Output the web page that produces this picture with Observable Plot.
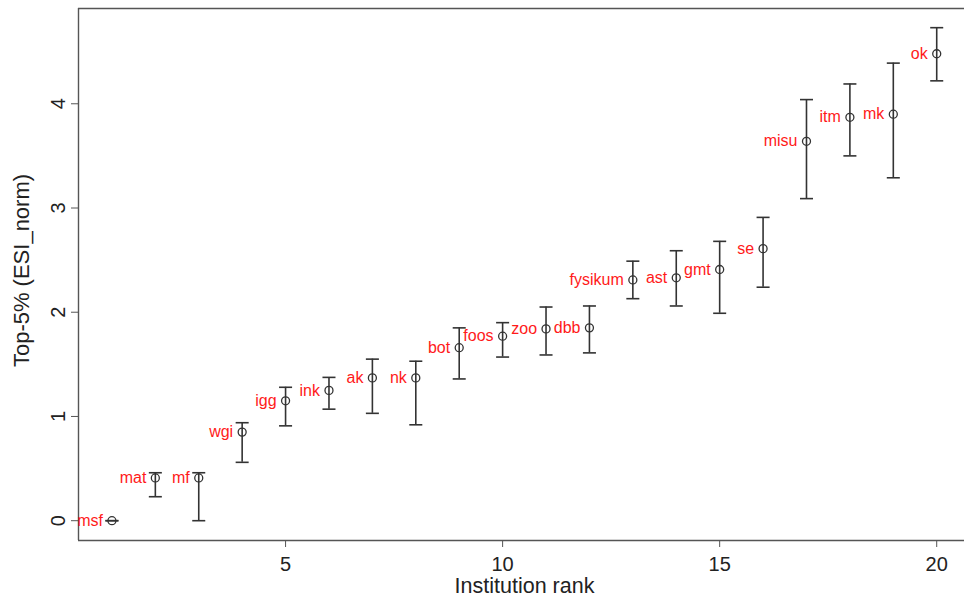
<!DOCTYPE html>
<html>
<head>
<meta charset="utf-8">
<script src="https://cdn.jsdelivr.net/npm/d3@7"></script>
<script src="https://cdn.jsdelivr.net/npm/@observablehq/plot@0.6"></script>
<style>
  html, body { margin: 0; padding: 0; background: #fff; overflow: hidden; }
  #chart svg { display: block; }
</style>
</head>
<body>
<div id="chart"></div>
<script>
// Data
const institutions = ["msf","mat","mf","wgi","igg","ink","ak","nk","bot","foos","zoo","dbb","fysikum","ast","gmt","se","misu","itm","mk","ok"];
const ranks = [1,2,3,4,5,6,7,8,9,10,11,12,13,14,15,16,17,18,19,20];
const values = [0.00,0.41,0.41,0.85,1.15,1.25,1.37,1.37,1.66,1.77,1.84,1.85,2.31,2.33,2.41,2.61,3.64,3.87,3.90,4.48];
const lower  = [0.00,0.23,0.00,0.56,0.91,1.07,1.03,0.92,1.36,1.57,1.59,1.61,2.13,2.06,1.99,2.24,3.09,3.50,3.29,4.22];
const upper  = [0.00,0.46,0.46,0.94,1.28,1.375,1.55,1.53,1.85,1.90,2.05,2.06,2.49,2.59,2.68,2.91,4.04,4.19,4.39,4.73];
const xTicks = [5,10,15,20];
const yTicks = [0,1,2,3,4];
const xTitle = "Institution rank";
const yTitle = "Top-5% (ESI_norm)";

const data = institutions.map((name, i) => ({
  name, rank: ranks[i], value: values[i], lo: lower[i], hi: upper[i]
}));

const xDomain = [0.23, 20.64];
const yDomain = [-0.19, 4.914];
const capHalf = 0.15; // half-width of error-bar caps, in rank units

const ink = "#333";
const font = "'Liberation Sans', Arial, Helvetica, sans-serif";

const chart = Plot.plot({
  width: 964,
  height: 607,
  marginLeft: 78,
  marginRight: 0,
  marginTop: 8,
  marginBottom: 67,
  style: { fontFamily: font, background: "#fff", overflow: "visible" },
  x: { domain: xDomain },
  y: { domain: yDomain },
  marks: [
    // frame: left, bottom, top (right side cut off in reference)
    Plot.ruleX([xDomain[0]], { stroke: "#555", strokeWidth: 1.4 }),
    Plot.ruleY([yDomain[0], yDomain[1]], { stroke: "#555", strokeWidth: 1.4 }),
    Plot.axisX({
      ticks: xTicks, tickSize: 7, tickPadding: 9, fontSize: 20,
      stroke: "#555", color: "#222", label: null, tickFormat: d => String(d)
    }),
    Plot.axisY({
      ticks: yTicks, tickSize: 7, tickPadding: 7, fontSize: 20,
      tickRotate: -90, stroke: "#555", color: "#222", label: null, tickFormat: d => String(d)
    }),
    Plot.text([xTitle], { frameAnchor: "bottom", dy: 52, dx: 3, fontSize: 21.5, fill: "#222" }),
    Plot.text([yTitle], { frameAnchor: "left", textAnchor: "middle", dx: -57, dy: -4, rotate: -90, fontSize: 22, fill: "#222" }),
    // error bars
    Plot.ruleX(data, { x: "rank", y1: "lo", y2: "hi", stroke: ink, strokeWidth: 1.6 }),
    Plot.link(data, { x1: d => d.rank - capHalf, x2: d => d.rank + capHalf, y1: "hi", y2: "hi", stroke: ink, strokeWidth: 1.6 }),
    Plot.link(data, { x1: d => d.rank - capHalf, x2: d => d.rank + capHalf, y1: "lo", y2: "lo", stroke: ink, strokeWidth: 1.6 }),
    // points
    Plot.dot(data, { x: "rank", y: "value", r: 4, stroke: ink, strokeWidth: 1.3, fill: "none" }),
    // labels
    Plot.text(data, { x: "rank", y: "value", text: "name", textAnchor: "end", dx: -9, fill: "#ff1a1a", fontSize: 16 })
  ]
});

document.getElementById("chart").appendChild(chart);
</script>
</body>
</html>
